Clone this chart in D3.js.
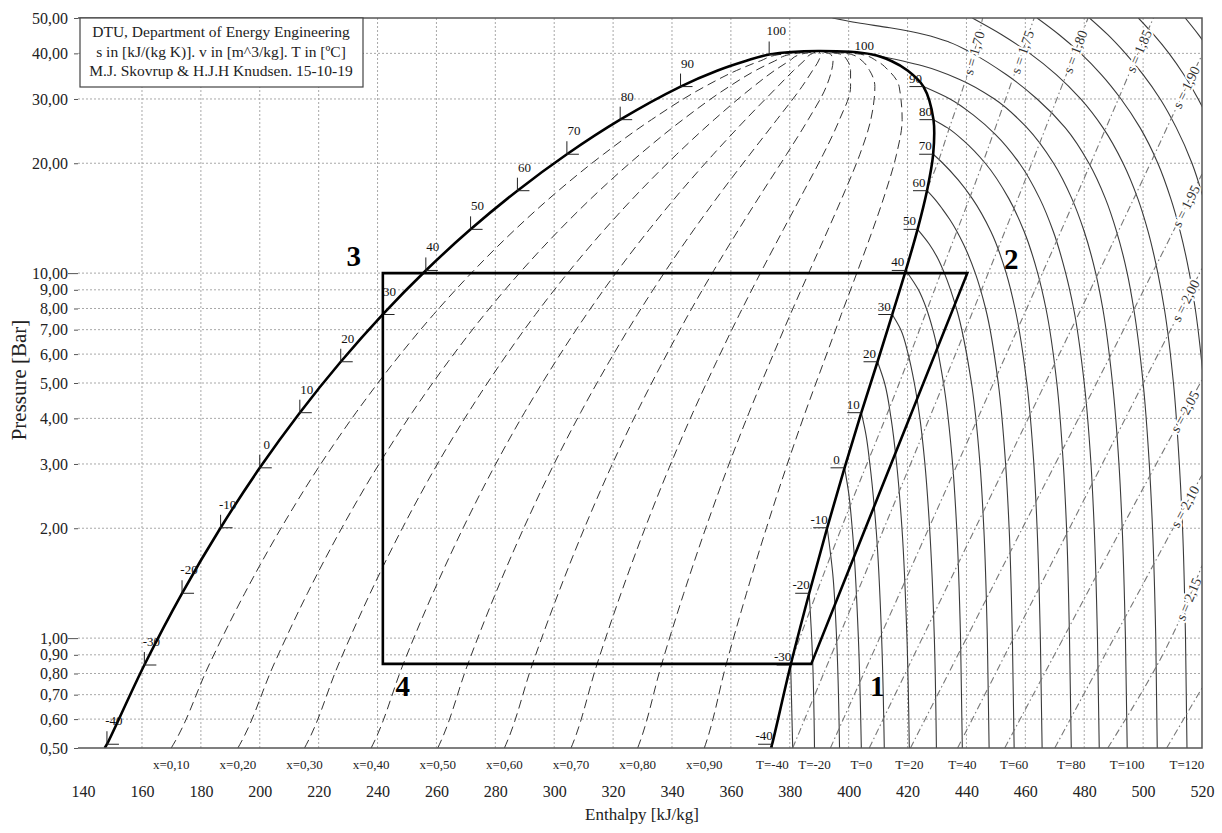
<!DOCTYPE html>
<html>
<head>
<meta charset="utf-8">
<title>log p-h diagram</title>
<script src="https://cdn.jsdelivr.net/npm/d3@7/dist/d3.min.js"></script>
<style>
  body { margin: 0; background: #fff; }
  svg { font-family: "Liberation Serif", "DejaVu Serif", serif; }
</style>
</head>
<body>
<div id="graph"></div>
<script>

// ---- axis ticks
const pTicks = [0.5, 0.6, 0.7, 0.8, 0.9, 1, 2, 3, 4, 5, 6, 7, 8, 9, 10, 20, 30, 40, 50];
const hTicks = [140, 160, 180, 200, 220, 240, 260, 280, 300, 320, 340, 360, 380, 400, 420, 440, 460, 480, 500, 520];

// ---- saturation curve (T in C, p in bar, h in kJ/kg)
const satT = [-40.7, -40, -30, -20, -10, 0, 10, 20, 30, 40, 50, 60, 70, 80, 90, 95, 98, 100, 101.06];
const satP = [0.50, 0.512, 0.844, 1.327, 2.006, 2.928, 4.146, 5.717, 7.702, 10.17, 13.18, 16.82, 21.17, 26.33, 32.44, 35.91, 38.13, 39.72, 40.59];
const hLiq = [147.3, 148.1, 160.8, 173.6, 186.7, 200.0, 213.6, 227.5, 241.7, 256.4, 271.6, 287.5, 304.3, 322.4, 342.9, 355.5, 365.0, 373.0, 389.6];
const hVap = [373.6, 374.0, 380.3, 386.6, 392.7, 398.6, 404.3, 409.8, 414.8, 419.4, 423.4, 426.6, 428.7, 428.8, 425.4, 420.0, 414.5, 408.0, 389.6];
const satLabelT = [-40, -30, -20, -10, 0, 10, 20, 30, 40, 50, 60, 70, 80, 90, 100];

// ---- quality lines
const qualities = [0.1, 0.2, 0.3, 0.4, 0.5, 0.6, 0.7, 0.8, 0.9];

// ---- isotherms, [p, h]
const isoT = [-40, -30, -20, -10, 0, 10, 20, 30, 40, 50, 60, 70, 80, 90, 100, 110, 120, 130, 140, 150, 160];
const isoPts = [
  [[0.5,374.1],[0.512,374.0]],
  [[0.5,381.0],[0.844,380.3]],
  [[0.5,388.4],[0.9,387.7],[1.327,386.6]],
  [[0.5,396.9],[1,395.9],[1.5,394.6],[2.006,392.7]],
  [[0.5,404.3],[1,403.3],[2,401.2],[2.5,400.0],[2.928,398.6]],
  [[0.5,412.1],[1,411.2],[2,409.3],[3,407.2],[3.6,405.9],[4.146,404.3]],
  [[0.5,420.6],[1,419.8],[2,418.1],[3,416.3],[4,414.4],[5,412.2],[5.717,409.8]],
  [[0.5,429.8],[1,429.1],[2,427.5],[3,425.9],[4,424.2],[5,422.3],[6,420.2],[7,417.7],[7.702,414.8]],
  [[0.5,438.6],[1,438.0],[2,436.7],[3,435.3],[5,432.2],[7,428.6],[8,426.4],[9,423.7],[10.17,419.4]],
  [[0.5,447.7],[1,447.1],[2,445.9],[3,444.6],[5,441.7],[8,436.6],[10,432.5],[11,430.2],[12,427.4],[13.18,423.4]],
  [[0.5,456.2],[1,455.6],[2,454.5],[3,453.3],[5,450.8],[8,446.5],[10,443.0],[12,439.0],[14,434.4],[15,431.8],[16,429.1],[16.82,426.6]],
  [[0.5,465.7],[1,465.1],[2,464.0],[3,462.9],[5,460.5],[8,456.5],[10,453.5],[13,448.3],[16,442.0],[18,437.2],[20,432.0],[21.17,428.7]],
  [[0.5,475.6],[1,475.0],[2,474.0],[3,472.9],[5,470.7],[8,467.0],[10,464.2],[13,459.6],[16,454.4],[20,446.4],[23,439.2],[25,433.6],[26.33,428.8]],
  [[0.5,485.1],[1,484.5],[2,483.4],[3,482.3],[5,480.0],[8,476.4],[10,473.7],[13,469.5],[16,464.9],[20,458.0],[24,449.8],[27,442.6],[30,434.4],[32.44,425.4]],
  [[0.5,494.6],[1,494.0],[2,492.9],[3,491.8],[5,489.6],[8,486.3],[10,483.9],[13,480.0],[16,475.8],[20,469.6],[25,460.6],[30,449.5],[34,437.5],[37,425.0],[39.72,408.0]],
  [[0.5,504.8],[1,504.3],[2,503.2],[3,502.1],[5,500.0],[8,496.8],[10,494.6],[13,491.0],[16,487.2],[20,481.6],[25,473.6],[30,464.0],[35,453.5],[40,442.0],[43,434.0],[45,426.0],[47,414.0],[48.5,403.0],[50,394.5]],
  [[0.5,514.9],[1,514.4],[2,513.4],[3,512.3],[5,510.3],[8,507.2],[10,505.0],[13,501.7],[16,498.2],[20,493.2],[25,486.4],[30,478.8],[35,470.5],[40,461.5],[45,452.0],[50,442.0]],
  [[1,524.5],[2,523.5],[5,520.6],[8,517.7],[10,515.7],[13,512.6],[16,509.4],[20,505.0],[25,499.0],[30,492.5],[35,485.8],[40,478.8],[45,471.5],[50,464.0]],
  [[5,531.0],[10,526.3],[16,520.5],[20,516.6],[25,511.3],[30,505.8],[35,500.0],[40,494.0],[45,488.0],[50,481.8]],
  [[10,537.0],[20,528.0],[25,523.4],[30,518.7],[35,513.8],[40,508.8],[45,503.6],[50,498.4]],
  [[20,539.0],[30,532.0],[35,527.5],[40,523.2],[45,518.8],[50,514.3]]
];
const isoLabelT = [-40, -20, 0, 20, 40, 60, 80, 100, 120];

// ---- isentropes, [p, h]
const sVals = [1.70, 1.75, 1.80, 1.85, 1.90, 1.95, 2.00, 2.05, 2.10, 2.15, 2.20];
const sPts = [
  [[17.2,426.9],[20,430.2],[25,434.2],[30,437.6],[35,440.3],[40,442.5],[45,444.2],[50,445.5]],
  [[0.88,380.9],[1,383.4],[2,397.5],[5,417.2],[10,431.3],[20,445.5],[30,453.3],[40,458.8],[50,463.0]],
  [[0.5,381.0],[1,396.5],[2,412.0],[5,432.3],[10,447.4],[20,462.2],[30,470.7],[40,476.7],[50,481.3]],
  [[0.5,393.8],[1,410.5],[2,427.2],[5,449.2],[10,465.8],[20,482.2],[30,491.6],[40,498.2],[50,503.5]],
  [[0.5,407.0],[1,425.0],[2,443.0],[5,466.8],[10,484.8],[20,502.5],[30,512.7],[39.6,520.0]],
  [[0.5,421.0],[1,440.0],[2,459.0],[5,484.2],[10,503.1],[18.7,520.0]],
  [[0.5,437.0],[1,456.0],[2,475.0],[5,500.1],[10.3,520.0]],
  [[0.5,453.0],[1,472.9],[2,492.7],[5.1,520.0]],
  [[0.5,470.0],[1,490.1],[2,510.2],[2.8,520.0]],
  [[0.5,488.0],[1,509.5],[1.58,520.0]],
  [[0.5,508.0],[0.73,520.0]]
];
const sLabelled = [1.70, 1.75, 1.80, 1.85, 1.90, 1.95, 2.00, 2.05, 2.10, 2.15];

// ---- refrigeration cycle
const cycleNames = ["1", "2", "3", "4"];
const cycleH = [387.3, 440.3, 241.8, 241.8];
const cycleP = [0.85, 10.0, 10.0, 0.85];

// ---- info box
const infoLines = [
  "DTU, Department of Energy Engineering",
  "s in [kJ/(kg K)]. v in [m^3/kg]. T in [ºC]",
  "M.J. Skovrup & H.J.H Knudsen. 15-10-19"
];

// =====================================================================

const W = 1222, H = 833;
const L = 78, R = 1202, T = 18, B = 748;

const x = d3.scaleLinear().domain([140, 520]).range([83.1, 1202]);
const y = d3.scaleLog().domain([0.5, 50]).range([748, 18]);

const comma = v => d3.format(".2f")(v).replace(".", ",");

const svg = d3.select("div#graph")
  .append("svg")
  .attr("width", W)
  .attr("height", H);

svg.append("rect").attr("width", W).attr("height", H).attr("fill", "#fff");

svg.append("clipPath").attr("id", "plot")
  .append("rect").attr("x", L).attr("y", T).attr("width", R - L).attr("height", B - T);

// grid
const grid = svg.append("g").attr("stroke", "#a8a8a8").attr("stroke-width", 1).attr("stroke-dasharray", "2,2");
grid.selectAll("line.v")
  .data(hTicks.filter(h => h > 140 && h < 520))
  .enter().append("line").attr("class", "v")
  .attr("x1", d => x(d)).attr("x2", d => x(d))
  .attr("y1", T).attr("y2", B);
grid.selectAll("line.h")
  .data(pTicks.filter(p => p > 0.5 && p < 50))
  .enter().append("line").attr("class", "h")
  .attr("x1", L).attr("x2", R)
  .attr("y1", d => y(d)).attr("y2", d => y(d));

// axes
const yAxis = svg.append("g")
  .attr("transform", "translate(" + L + ",0)")
  .call(d3.axisLeft(y).tickValues(pTicks).tickFormat(comma).tickSize(4).tickPadding(5));
yAxis.select(".domain").remove();
yAxis.selectAll(".tick line").attr("stroke", "#555")
  .attr("x2", d => (d === 1 || d === 10) ? -10 : -4);
yAxis.selectAll(".tick text")
  .attr("x", -10)
  .style("font-size", "16px").style("font-family", "Liberation Serif, serif").attr("fill", "#222");

const xAxis = svg.append("g")
  .attr("transform", "translate(0," + B + ")")
  .call(d3.axisBottom(x).tickValues(hTicks).tickFormat(d3.format("d")).tickSize(0).tickPadding(38));
xAxis.select(".domain").remove();
xAxis.selectAll(".tick text")
  .style("font-size", "16px").style("font-family", "Liberation Serif, serif").attr("fill", "#222");

// line generators: points are [p, h]
const phLine = d3.line().x(d => x(d[1])).y(d => y(d[0])).curve(d3.curveMonotoneY);
const domeLine = d3.line().x(d => x(d[1])).y(d => y(d[0])).curve(d3.curveCatmullRom.alpha(0.5));

const plot = svg.append("g").attr("clip-path", "url(#plot)");

// quality lines
const qualityData = qualities.map(q => satP.map((p, i) => [p, hLiq[i] + q * (hVap[i] - hLiq[i])]));
plot.append("g").selectAll("path")
  .data(qualityData)
  .enter().append("path")
  .attr("d", phLine)
  .attr("fill", "none").attr("stroke", "#333").attr("stroke-width", 1)
  .attr("stroke-dasharray", "9,5");

// isotherms
plot.append("g").selectAll("path")
  .data(isoPts)
  .enter().append("path")
  .attr("d", phLine)
  .attr("fill", "none").attr("stroke", "#3a3a3a").attr("stroke-width", 1.1);

// isentropes
const sPaths = plot.append("g").selectAll("path")
  .data(sPts)
  .enter().append("path")
  .attr("d", phLine)
  .attr("fill", "none").attr("stroke", "#777").attr("stroke-width", 1.1)
  .attr("stroke-dasharray", "7,3,1.5,3");

// isentrope labels along the line, near the exit
const sLab = svg.append("g");
sPaths.each(function (d, i) {
  if (sLabelled.indexOf(sVals[i]) < 0) return;
  const len = this.getTotalLength();
  const c = this.getPointAtLength(len - 36);
  const a = this.getPointAtLength(len - 46);
  const b = this.getPointAtLength(len - 26);
  const ang = Math.atan2(b.y - a.y, b.x - a.x) * 180 / Math.PI;
  sLab.append("text")
    .attr("transform", "translate(" + c.x + "," + c.y + ") rotate(" + ang + ")")
    .attr("text-anchor", "middle").attr("dy", "0.35em")
    .style("font-size", "14px")
    .attr("fill", "#333")
    .attr("stroke", "#fff").attr("stroke-width", 4).attr("paint-order", "stroke")
    .text("s = " + d3.format(".2f")(sVals[i]).replace(".", ","));
});

// saturation dome
const domePts = satP.map((p, i) => [p, hLiq[i]])
  .concat(satP.slice(0, -1).map((p, i) => [p, hVap[i]]).reverse());
plot.append("path")
  .attr("d", domeLine(domePts))
  .attr("fill", "none").attr("stroke", "#000").attr("stroke-width", 2.6);

// T ticks on the saturation curve
const satLab = svg.append("g").attr("stroke", "#222").attr("stroke-width", 1);
satLabelT.forEach(t => {
  const i = satT.indexOf(t);
  const xl = x(hLiq[i]), yl = y(satP[i]);
  const xv = x(hVap[i]), yv = y(satP[i]);
  satLab.append("path").attr("fill", "none")
    .attr("d", "M" + xl + "," + (yl - 13) + "V" + yl + "H" + (xl + 12));
  satLab.append("text").attr("stroke", "none").attr("fill", "#111")
    .attr("x", xl + 7).attr("y", yl - 19)
    .attr("text-anchor", "middle").style("font-size", "13px")
    .text(t);
  if (t < 100) {
    satLab.append("path").attr("fill", "none")
      .attr("d", "M" + (xv - 14) + "," + yv + "H" + xv);
  }
  satLab.append("text").attr("stroke", "none").attr("fill", "#111")
    .attr("x", xv - 8).attr("y", yv - 4)
    .attr("text-anchor", "middle").style("font-size", "13px")
    .text(t);
});

// bottom labels for quality lines and isotherms
const botLab = svg.append("g").style("font-size", "13px").attr("fill", "#222").attr("text-anchor", "middle");
botLab.selectAll("text.q")
  .data(qualityData)
  .enter().append("text").attr("class", "q")
  .attr("x", d => x(d[0][1])).attr("y", 769)
  .text((d, i) => "x=" + d3.format(".2f")(qualities[i]).replace(".", ","));
botLab.selectAll("text.t")
  .data(isoLabelT)
  .enter().append("text").attr("class", "t")
  .attr("x", t => x(isoPts[isoT.indexOf(t)][0][1])).attr("y", 769)
  .text(t => "T=" + t);

// cycle
const cyc = cycleH.map((h, i) => [cycleP[i], h]);
svg.append("path")
  .attr("d", d3.line().x(d => x(d[1])).y(d => y(d[0])).curve(d3.curveLinearClosed)(cyc))
  .attr("fill", "none").attr("stroke", "#000").attr("stroke-width", 2.6);
const cycOff = [[66, 32], [44, -4], [-29, -7], [20, 32]];
svg.append("g").selectAll("text")
  .data(cyc)
  .enter().append("text")
  .attr("x", (d, i) => x(d[1]) + cycOff[i][0])
  .attr("y", (d, i) => y(d[0]) + cycOff[i][1])
  .attr("text-anchor", "middle")
  .style("font-size", "29px").style("font-weight", "bold")
  .text((d, i) => cycleNames[i]);

// frame
svg.append("path")
  .attr("d", "M" + L + "," + T + "H" + R + "V" + B + "H" + L)
  .attr("fill", "none").attr("stroke", "#555").attr("stroke-width", 1.5);

// info box
svg.append("rect").attr("x", 80).attr("y", T).attr("width", 283).attr("height", 69)
  .attr("fill", "#fff").attr("stroke", "#444").attr("stroke-width", 1.2);
svg.append("g").selectAll("text")
  .data(infoLines)
  .enter().append("text")
  .attr("x", 221).attr("y", (d, i) => 37 + i * 19.5)
  .attr("text-anchor", "middle")
  .style("font-size", "15.5px").attr("fill", "#222")
  .text(d => d);

// axis titles
svg.append("text")
  .attr("x", 642).attr("y", 820)
  .attr("text-anchor", "middle").style("font-size", "17px").attr("fill", "#222")
  .text("Enthalpy [kJ/kg]");
svg.append("text")
  .attr("transform", "translate(26,380) rotate(-90)")
  .attr("text-anchor", "middle").style("font-size", "21px").attr("fill", "#222")
  .text("Pressure [Bar]");

</script>
</body>
</html>
